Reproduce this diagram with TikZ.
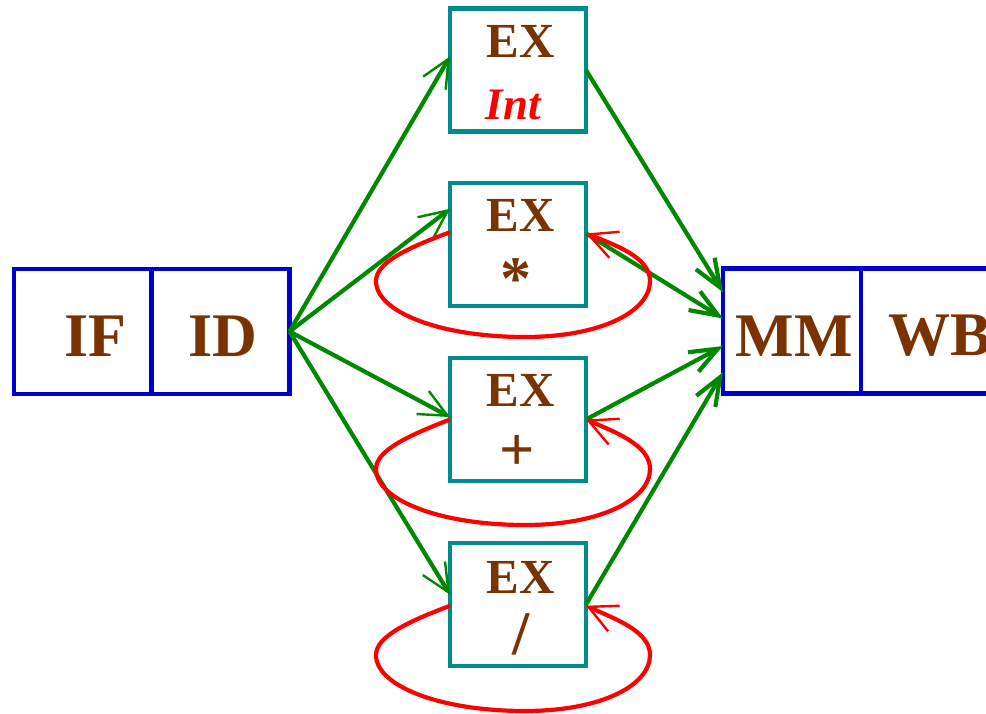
\documentclass[tikz,border=0pt]{standalone}
\usepackage{fontspec}
\setmainfont{Liberation Serif}
\usetikzlibrary{arrows.meta,calc}
\definecolor{exbrown}{RGB}{122,51,0}
\definecolor{exteal}{RGB}{0,140,140}
\definecolor{stblue}{RGB}{0,0,210}
\definecolor{flgreen}{RGB}{0,136,0}
\definecolor{lpred}{RGB}{255,0,0}
\begin{document}
\begin{tikzpicture}[x=0.5pt,y=-0.5pt,
  stage/.style={draw=stblue,line width=2.4pt,minimum width=69pt,minimum height=62.5pt,inner sep=0pt,outer sep=0pt},
  exbox/.style={draw=exteal,line width=2.4pt,minimum width=68pt,minimum height=61.5pt,inner sep=0pt,outer sep=0pt},
  big/.style={text=exbrown,font=\fontsize{31}{36}\selectfont\bfseries,inner sep=0pt},
  extxt/.style={text=exbrown,font=\fontsize{24.5}{30}\selectfont\bfseries,inner sep=0pt},
  optxt/.style={text=exbrown,font=\fontsize{31}{36}\selectfont\bfseries,inner sep=0pt},
  inttxt/.style={text=lpred,font=\fontsize{22.5}{28}\selectfont\bfseries\itshape,inner sep=0pt},
  garrow/.style={draw=flgreen,line width=2.1pt,-{Straight Barb[length=14pt,width=13pt,line width=1.2pt]}},
  marrow/.style={draw=flgreen,line width=2.1pt,-{Straight Barb[length=14pt,width=11pt,line width=2.1pt]}},
  rloop/.style={draw=lpred,line width=2.1pt,-{Straight Barb[length=14pt,width=14pt,line width=1.2pt]}}
]
\useasboundingbox (0,0) rectangle (986,713);
\clip (0,0) rectangle (986,713);
\fill[white] (0,0) rectangle (986,713);

% stage boxes
\node[stage] (if) at (83,331.5) {};
\node[stage] (id) at (220.5,331.5) {};
\node[stage] (mm) at (792,331) {};
\node[stage] (wb) at (930,331) {};
\node[big] (tif) at (95.5,336) {IF};
\node[big] (tid) at (223,336) {ID};
\node[big] (tmm) at (794,336) {MM};
\node[big] (twb) at (940,336) {WB};

% execution units
\node[exbox] (ex1) at (518,70) {};
\node[exbox] (ex2) at (518,244.5) {};
\node[exbox] (ex3) at (518,419.5) {};
\node[exbox] (ex4) at (518,604.5) {};
\node[extxt] (ex1t) at (521,41.5) {EX};
\node[extxt] (ex2t) at (521,215.5) {EX};
\node[extxt] (ex3t) at (521,390) {EX};
\node[extxt] (ex4t) at (521,577) {EX};
\node[inttxt] (ex1o) at (513.5,105) {Int};
\node[optxt] (ex2o) at (516,279) {*};
\node[optxt] (ex3o) at (517.5,453) {+};
\node[optxt] (ex4o) at (521,634) {/};

% connector end points
\coordinate (ex1in) at ($(ex1.north west)!0.39!(ex1.south west)$);
\coordinate (ex2in) at ($(ex2.north west)!0.21!(ex2.south west)$);
\coordinate (ex3in) at ($(ex3.north west)!0.48!(ex3.south west)$);
\coordinate (ex4in) at ($(ex4.north west)!0.42!(ex4.south west)$);
\coordinate (ex2out) at ($(ex2.north east)!0.41!(ex2.south east)$);
\coordinate (mm1) at ($(mm.north west)!0.19!(mm.south west)$);
\coordinate (mm2) at ($(mm.north west)!0.40!(mm.south west)$);
\coordinate (mm3) at ($(mm.north west)!0.62!(mm.south west)$);
\coordinate (mm4) at ($(mm.north west)!0.83!(mm.south west)$);
\coordinate (ex2l) at ($(ex2.north west)!0.40!(ex2.south west)$);
\coordinate (ex2r) at ($(ex2.north east)!0.41!(ex2.south east)$);
\coordinate (ex3l) at ($(ex3.north west)!0.50!(ex3.south west)$);
\coordinate (ex3r) at ($(ex3.north east)!0.50!(ex3.south east)$);
\coordinate (ex4l) at ($(ex4.north west)!0.51!(ex4.south west)$);
\coordinate (ex4r) at ($(ex4.north east)!0.51!(ex4.south east)$);

% green flow
\draw[garrow] (id.east) -- (ex1in);
\draw[garrow] (id.east) -- (ex2in);
\draw[garrow] (id.east) -- (ex3in);
\draw[garrow] (id.east) -- (ex4in);
\draw[marrow] (ex1.east) -- (mm1);
\draw[marrow] (ex2out) -- (mm2);
\draw[marrow] (ex3.east) -- (mm3);
\draw[marrow] (ex4.east) -- (mm4);

% red loops
\draw[rloop] (ex2l) .. controls (410,247) and (376,262) .. (376,281)
  .. controls (376,312) and (440,337) .. (525,337)
  .. controls (600,337) and (650,312) .. (650,281)
  .. controls (650,257) and (615,245) .. (ex2r);
\draw[rloop] (ex3l) .. controls (410,435) and (376,450) .. (376,469)
  .. controls (376,500) and (440,525) .. (525,525)
  .. controls (600,525) and (650,500) .. (650,469)
  .. controls (650,445) and (615,432) .. (ex3r);
\draw[rloop] (ex4l) .. controls (410,621) and (376,636) .. (376,655)
  .. controls (376,686) and (440,711) .. (525,711)
  .. controls (600,711) and (650,686) .. (650,655)
  .. controls (650,631) and (615,619) .. (ex4r);
\end{tikzpicture}
\end{document}
